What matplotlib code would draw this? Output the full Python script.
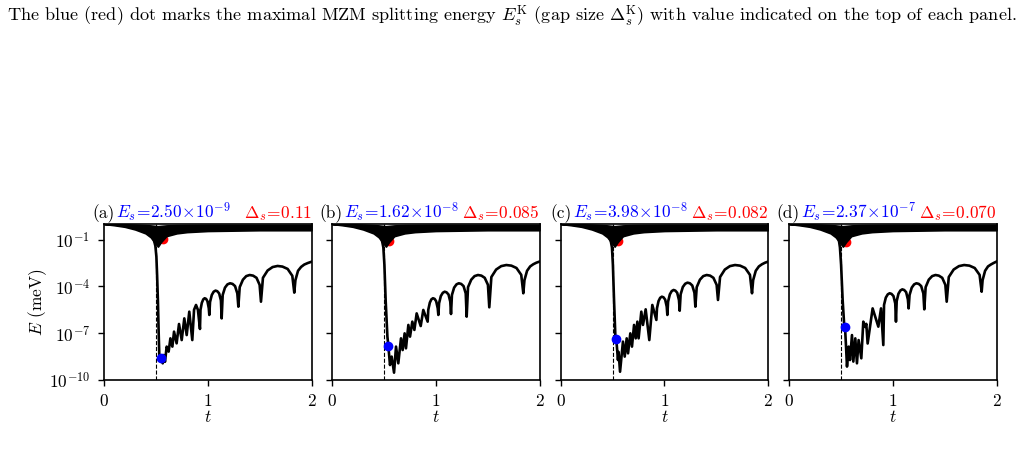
import matplotlib
matplotlib.use("Agg")
import matplotlib.pyplot as plt
import numpy as np

plt.rcParams["font.family"] = "serif"
plt.rcParams["font.serif"] = ["cmr10"]
plt.rcParams["mathtext.fontset"] = "cm"
plt.rcParams["axes.formatter.use_mathtext"] = True
plt.rcParams["font.size"] = 12.5

# panel annotations
panel_tags = ["(a)", "(b)", "(c)", "(d)"]
es_mant = ["2.50", "1.62", "3.98", "2.37"]
es_exp = [-9, -8, -8, -7]
gap_text = ["0.11", "0.085", "0.082", "0.070"]
gap_vals = [0.11, 0.085, 0.082, 0.070]
t_blue = [0.546, 0.543, 0.536, 0.540]
t_red = [0.566, 0.550, 0.549, 0.549]
t_quench = 0.5

# bulk band of eigenvalues (log10 E), shared by all panels
band_t = [0.0, 0.1, 0.2, 0.3, 0.4, 0.45, 0.49, 0.52, 0.55, 0.6, 0.7, 0.8, 1.0, 1.5, 2.0]
band_hi = [0.0, -0.01, -0.02, -0.04, -0.07, -0.09, -0.12, -0.14, -0.12, -0.09, -0.07, -0.06, -0.05, -0.05, -0.05]
band_lo = [0.0, -0.08, -0.18, -0.35, -0.6, -0.85, -1.2, -1.45, -1.15, -0.78, -0.6, -0.52, -0.45, -0.4, -0.4]

# MZM splitting curves, (t, log10 E)
mzm_a = [(0.0, 0.0), (0.1, -0.04), (0.2, -0.1), (0.3, -0.22), (0.4, -0.45), (0.45, -0.7), (0.48, -1.0),
         (0.495, -1.4), (0.505, -2.1), (0.512, -3.3), (0.52, -5.0), (0.527, -7.0), (0.533, -8.4),
         (0.546, -8.55), (0.566, -8.93), (0.575, -8.4), (0.588, -8.83), (0.604, -7.86), (0.623, -8.18),
         (0.64, -7.33), (0.659, -7.86), (0.675, -6.9), (0.70, -7.65), (0.723, -6.41), (0.749, -7.44),
         (0.774, -6.05), (0.797, -7.12), (0.822, -5.62), (0.851, -7.44), (0.868, -5.5), (0.887, -5.19),
         (0.905, -5.5), (0.925, -6.73),
         (0.930, -5.5), (0.943, -5.05), (0.957, -4.83), (0.97, -4.76), (0.984, -4.8), (0.997, -4.95), (1.010, -5.4), (1.015, -5.83),
         (1.022, -5.0), (1.039, -4.55), (1.057, -4.34), (1.075, -4.27), (1.092, -4.31), (1.11, -4.45), (1.127, -4.9), (1.134, -6.05),
         (1.144, -4.55), (1.166, -4.08), (1.19, -3.87), (1.215, -3.80), (1.239, -3.84), (1.263, -3.98), (1.285, -4.45), (1.295, -5.30),
         (1.308, -4.05), (1.339, -3.57), (1.371, -3.34), (1.404, -3.27), (1.437, -3.31), (1.47, -3.45), (1.5, -3.9), (1.513, -4.98),
         (1.532, -3.45), (1.577, -2.98), (1.625, -2.76), (1.673, -2.69), (1.72, -2.73), (1.77, -2.88), (1.815, -3.32), (1.834, -4.40),
         (1.845, -3.6), (1.87, -3.0), (1.90, -2.75), (1.93, -2.6), (1.965, -2.5), (2.0, -2.42)]

mzm_b = [(0.0, 0.0), (0.1, -0.04), (0.2, -0.1), (0.3, -0.22), (0.4, -0.45), (0.45, -0.7), (0.48, -1.0),
         (0.495, -1.5), (0.505, -2.6), (0.517, -4.87), (0.534, -7.22), (0.543, -7.8), (0.559, -9.04),
         (0.575, -8.50), (0.598, -9.53), (0.617, -7.86), (0.639, -8.93), (0.665, -7.33), (0.681, -8.08),
         (0.700, -7.01), (0.713, -7.97), (0.736, -6.47), (0.752, -7.22), (0.774, -6.26), (0.794, -6.79),
         (0.816, -5.73), (0.855, -6.54), (0.880, -5.51), (0.922, -6.26),
         (0.928, -5.5), (0.943, -5.04), (0.958, -4.83), (0.973, -4.76), (0.989, -4.8), (1.004, -4.95), (1.019, -5.4), (1.025, -5.83),
         (1.032, -5.08), (1.049, -4.62), (1.068, -4.41), (1.086, -4.34), (1.104, -4.38), (1.123, -4.52), (1.14, -4.98), (1.147, -5.77),
         (1.156, -4.55), (1.177, -4.08), (1.2, -3.87), (1.222, -3.80), (1.245, -3.84), (1.268, -3.98), (1.289, -4.45), (1.298, -5.94),
         (1.311, -4.05), (1.342, -3.57), (1.374, -3.34), (1.407, -3.27), (1.44, -3.31), (1.472, -3.45), (1.503, -3.9), (1.516, -5.34),
         (1.536, -3.4), (1.582, -2.92), (1.631, -2.7), (1.68, -2.63), (1.729, -2.67), (1.778, -2.82), (1.824, -3.26), (1.844, -4.44),
         (1.855, -3.6), (1.88, -3.0), (1.91, -2.72), (1.94, -2.58), (1.97, -2.48), (2.0, -2.41)]

mzm_c = [(0.0, 0.0), (0.1, -0.04), (0.2, -0.1), (0.3, -0.22), (0.4, -0.45), (0.45, -0.7), (0.48, -1.0),
         (0.494, -1.5), (0.503, -2.6), (0.514, -4.87), (0.527, -7.22), (0.536, -7.39), (0.552, -8.72),
         (0.558, -8.2), (0.572, -9.47), (0.600, -7.54), (0.617, -8.50), (0.636, -7.33), (0.649, -8.29),
         (0.671, -7.01), (0.687, -7.86), (0.707, -6.47), (0.723, -7.33), (0.739, -6.26), (0.751, -7.33),
         (0.777, -5.62), (0.793, -6.47), (0.819, -5.47), (0.854, -7.44), (0.883, -5.19), (0.922, -6.15),
         (0.928, -5.4), (0.943, -4.94), (0.959, -4.73), (0.975, -4.66), (0.991, -4.7), (1.007, -4.85), (1.022, -5.3), (1.028, -5.83),
         (1.035, -4.98), (1.052, -4.51), (1.07, -4.3), (1.088, -4.23), (1.105, -4.27), (1.123, -4.41), (1.14, -4.88), (1.147, -5.56),
         (1.156, -4.51), (1.177, -4.04), (1.2, -3.83), (1.222, -3.76), (1.245, -3.8), (1.268, -3.94), (1.289, -4.41), (1.298, -5.30),
         (1.311, -4.05), (1.342, -3.57), (1.374, -3.34), (1.407, -3.27), (1.44, -3.31), (1.472, -3.45), (1.503, -3.9), (1.516, -4.87),
         (1.536, -3.4), (1.582, -2.92), (1.631, -2.7), (1.68, -2.63), (1.729, -2.67), (1.778, -2.82), (1.824, -3.26), (1.844, -4.44),
         (1.855, -3.6), (1.88, -3.0), (1.91, -2.72), (1.94, -2.58), (1.97, -2.48), (2.0, -2.41)]

mzm_d = [(0.0, 0.0), (0.1, -0.04), (0.2, -0.1), (0.3, -0.22), (0.4, -0.45), (0.45, -0.7), (0.48, -1.0),
         (0.491, -1.5), (0.502, -2.6), (0.517, -4.87), (0.533, -6.58), (0.540, -6.62), (0.549, -7.76),
         (0.559, -9.14), (0.575, -7.86), (0.588, -8.72), (0.607, -7.12), (0.620, -8.82), (0.639, -7.33),
         (0.655, -8.93), (0.671, -7.44), (0.697, -8.61), (0.716, -6.26), (0.735, -6.6), (0.745, -6.4),
         (0.758, -7.66), (0.806, -5.41), (0.861, -6.58), (0.887, -5.41), (0.909, -7.76),
         (0.916, -5.19), (0.933, -4.72), (0.952, -4.51), (0.97, -4.44), (0.988, -4.48), (1.007, -4.62), (1.024, -5.09), (1.031, -6.26),
         (1.038, -4.94), (1.055, -4.47), (1.074, -4.26), (1.092, -4.19), (1.11, -4.23), (1.129, -4.37), (1.146, -4.84), (1.153, -5.41),
         (1.162, -4.55), (1.183, -4.08), (1.206, -3.87), (1.228, -3.80), (1.251, -3.84), (1.274, -3.98), (1.295, -4.45), (1.304, -5.47),
         (1.317, -4.05), (1.347, -3.57), (1.38, -3.34), (1.412, -3.27), (1.444, -3.31), (1.477, -3.45), (1.507, -3.9), (1.520, -4.98),
         (1.54, -3.4), (1.587, -2.92), (1.638, -2.7), (1.688, -2.63), (1.739, -2.67), (1.79, -2.82), (1.837, -3.26), (1.857, -4.34),
         (1.866, -3.6), (1.89, -3.0), (1.918, -2.72), (1.945, -2.6), (1.972, -2.5), (2.0, -2.41)]

mzm_curves = [mzm_a, mzm_b, mzm_c, mzm_d]

W, H = 1027, 458
fig = plt.figure(figsize=(W / 100, H / 100), dpi=100)

fig.text(7 / W, 1 - 16 / H,
         r"The blue (red) dot marks the maximal MZM splitting energy $E_s^{\rm K}$ "
         r"(gap size $\Delta_s^{\rm K}$) with value indicated on the top of each panel.",
         ha="left", va="center", fontsize=13.1)

ax_left = [104, 332, 560.7, 789]
ax_w, ax_top, ax_bot = 207.5, 224, 380

for i in range(4):
    ax = fig.add_axes([ax_left[i] / W, 1 - ax_bot / H, ax_w / W, (ax_bot - ax_top) / H])
    ax.set_yscale("log")

    ax.fill_between(band_t, 10 ** np.array(band_hi), 10 ** np.array(band_lo),
                    color="k", lw=1.2, zorder=2)
    ax.plot(t_red[i], gap_vals[i], "o", color="red", ms=6, zorder=1.5)

    t, le = zip(*mzm_curves[i])
    ax.plot(t, 10 ** np.array(le), color="k", lw=1.9, zorder=3)
    ax.axvline(t_quench, color="k", ls="--", lw=0.8, zorder=1)

    es = float(es_mant[i]) * 10.0 ** es_exp[i]
    ax.plot(t_blue[i], es, "o", color="blue", ms=6, zorder=4)

    ax.set_xlim(0, 2)
    ax.set_ylim(1e-10, 1.0)
    ax.set_xticks([0, 1, 2])
    ax.set_yticks([1e-10, 1e-7, 1e-4, 1e-1])
    ax.minorticks_off()
    ax.set_xlabel(r"$t$", labelpad=0)
    if i == 0:
        ax.set_ylabel(r"$E$ (meV)", labelpad=0)
    else:
        ax.set_yticklabels([])
    for s in ax.spines.values():
        s.set_linewidth(1.2)
    ax.tick_params(width=1.0, length=4)
    ax.tick_params(axis="y", pad=6)
    ax.tick_params(axis="x", pad=5)

    ax.text(0.053, 1.035, panel_tags[i], transform=ax.transAxes, ha="right", va="baseline")
    ax.text(0.06, 1.035, r"$E_s\!=\!%s\!\times\!10^{%d}$" % (es_mant[i], es_exp[i]),
            transform=ax.transAxes, ha="left", va="baseline", color="blue")
    ax.text(1.0, 1.035, r"$\Delta_s\!=\!%s$" % gap_text[i],
            transform=ax.transAxes, ha="right", va="baseline", color="red")

fig.savefig("out.png", dpi=100)
